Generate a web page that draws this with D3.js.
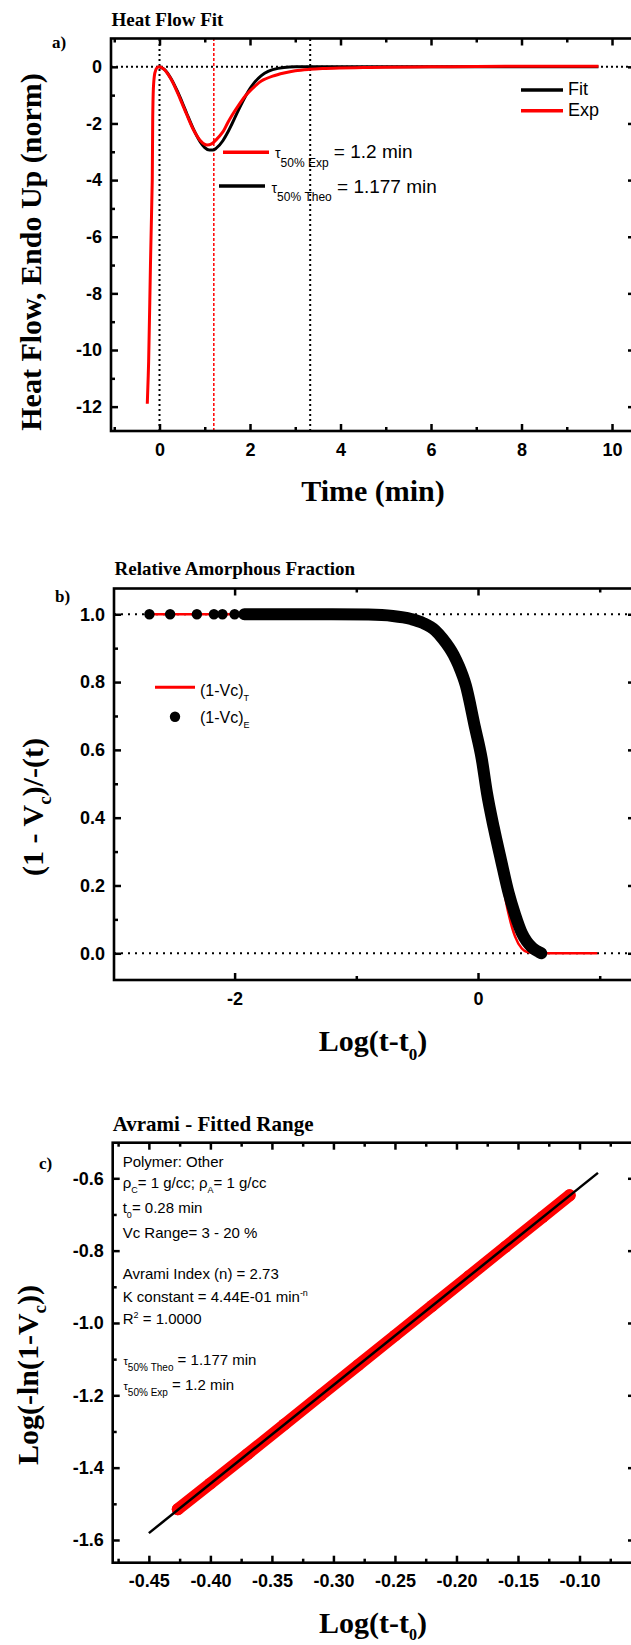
<!DOCTYPE html>
<html>
<head>
<meta charset="utf-8">
<script src="https://cdn.jsdelivr.net/npm/d3@7"></script>
<style>
  body { margin: 0; background: #fff; }
  svg { display: block; }
  text { white-space: pre; }
</style>
</head>
<body>
<svg id="chart" width="631" height="1645"></svg>
<script>
// ---- panel a : heat flow ----
const fitTime = [0, 0.1, 0.25, 0.4, 0.5, 0.6, 0.75, 0.9, 1.0, 1.1, 1.177, 1.25, 1.4, 1.5, 1.6, 1.75, 1.9, 2.0, 2.1, 2.25, 2.4, 2.5, 2.75, 3.0, 3.5, 4, 5, 6, 7, 8, 9, 9.7];
const fitHeat = [0, -0.08, -0.40, -0.88, -1.25, -1.64, -2.20, -2.65, -2.85, -2.94, -2.94, -2.88, -2.61, -2.34, -2.02, -1.51, -1.04, -0.77, -0.55, -0.31, -0.16, -0.10, -0.02, 0, 0, 0, 0, 0, 0, 0, 0, 0];
const expTime = [-0.27, -0.24, -0.2, -0.16, -0.15, -0.13, -0.1, -0.06, 0, 0.1, 0.25, 0.4, 0.5, 0.6, 0.75, 0.9, 1.0, 1.05, 1.15, 1.25, 1.4, 1.5, 1.6, 1.75, 1.9, 2.0, 2.1, 2.25, 2.5, 2.75, 3.0, 3.3, 3.6, 4.0, 4.5, 5, 6, 7, 8, 9, 9.7];
const expHeat = [-11.9, -10.4, -7.0, -4.0, -1.8, -0.6, -0.2, -0.04, 0, -0.09, -0.42, -0.92, -1.3, -1.68, -2.22, -2.6, -2.74, -2.76, -2.72, -2.58, -2.3, -2.0, -1.72, -1.35, -1.02, -0.85, -0.7, -0.5, -0.33, -0.22, -0.14, -0.09, -0.06, -0.04, -0.025, -0.015, 0, 0.01, 0.02, 0.02, 0.02];
const markerTimes = [0, 3.33];   // black dotted
const tauExp = 1.2;              // red dashed

// ---- panel b : relative amorphous fraction ----
const theoLogT = [-2.7, -1.5, -1.0, -0.7, -0.5, -0.35, -0.2, -0.1, 0, 0.074, 0.13, 0.189, 0.25, 0.304, 0.36, 0.4, 0.45, 0.5, 0.6, 0.98];
const theoFrac = [1, 1, 0.999, 0.995, 0.981, 0.952, 0.881, 0.789, 0.641, 0.493, 0.366, 0.233, 0.118, 0.05, 0.014, 0.004, 0.001, 0, 0, 0];
const expLogT = [-2.70, -2.53, -2.31, -2.17, -2.10, -2.00, -1.92, -1.85, -1.79, -1.73, -1.68, -1.63, -1.58, -1.54, -1.2, -0.9, -0.7, -0.55, -0.45, -0.35, -0.29, -0.2, -0.158, -0.1, -0.026, 0.03, 0.074, 0.13, 0.189, 0.25, 0.304, 0.36, 0.40, 0.436, 0.47, 0.50, 0.52];
const expFrac = [1, 1, 1, 1, 1, 1, 1, 1, 1, 1, 1, 1, 1, 1, 1.0, 0.999, 0.995, 0.986, 0.974, 0.952, 0.928, 0.88, 0.848, 0.79, 0.668, 0.575, 0.472, 0.37, 0.275, 0.18, 0.115, 0.06, 0.035, 0.02, 0.01, 0.004, 0.0];

// ---- panel c : avrami fitted range ----
const avrLogT = [-0.4265, -0.40, -0.37, -0.34, -0.31, -0.28, -0.25, -0.22, -0.19, -0.16, -0.13, -0.108];
const avrY = [-1.515, -1.444, -1.363, -1.281, -1.199, -1.117, -1.035, -0.953, -0.871, -0.789, -0.707, -0.647];
const fitLogT = [-0.45, -0.085];
const fitY = [-1.581, -0.585];

const SERIF = "'Liberation Serif','Times New Roman',serif";
const SANS = "'Liberation Sans',Arial,sans-serif";
const RED = "#ff0000";

// plain hyphen for negative tick labels, like the original
const loc = d3.formatLocale({ decimal: ".", thousands: ",", grouping: [3], currency: ["", ""], minus: "-" });

const svg = d3.select("#chart");

// text with sub/superscripts: parts = [{t, size, off}] where off = baseline offset
function rich(sel, x, y, parts, opt) {
    const t = sel.append("text")
        .attr("x", x).attr("y", y)
        .attr("font-family", opt.family || SANS)
        .attr("font-weight", opt.weight || "normal")
        .attr("font-size", opt.size)
        .attr("fill", "black");
    if (opt.anchor) t.attr("text-anchor", opt.anchor);
    if (opt.transform) t.attr("transform", opt.transform).attr("x", 0).attr("y", 0);
    let cur = 0;
    parts.forEach(p => {
        const off = p.off || 0;
        t.append("tspan")
            .attr("dy", off - cur)
            .attr("font-size", p.size || opt.size)
            .text(p.t);
        cur = off;
    });
    return t;
}

function panel(box, xDom, yDom, ticks) {
    const x = d3.scaleLinear().domain(xDom).range([box.left, box.right]);
    const y = d3.scaleLinear().domain(yDom).range([box.bottom, box.top]);
    const g = svg.append("g");
    const under = g.append("g");
    const marks = g.append("g");
    const axes = g.append("g");

    const put = (axis, tx, ty) => axes.append("g")
        .attr("transform", `translate(${tx},${ty})`)
        .call(axis);

    // minor ticks
    put(d3.axisBottom(x).tickValues(ticks.xMinor).tickSizeInner(-4).tickSizeOuter(0).tickFormat(""), 0, box.bottom);
    put(d3.axisTop(x).tickValues(ticks.xMinor).tickSizeInner(-4).tickSizeOuter(0).tickFormat(""), 0, box.top);
    put(d3.axisLeft(y).tickValues(ticks.yMinor).tickSizeInner(-4).tickSizeOuter(0).tickFormat(""), box.left, 0);
    put(d3.axisRight(y).tickValues(ticks.yMinor).tickSizeInner(-4).tickSizeOuter(0).tickFormat(""), box.right, 0);
    // major ticks
    put(d3.axisBottom(x).tickValues(ticks.xMajor).tickSizeInner(-7).tickSizeOuter(0).tickPadding(12).tickFormat(ticks.xFmt), 0, box.bottom);
    put(d3.axisTop(x).tickValues(ticks.xMajor).tickSizeInner(-7).tickSizeOuter(0).tickFormat(""), 0, box.top);
    put(d3.axisLeft(y).tickValues(ticks.yMajor).tickSizeInner(-7).tickSizeOuter(0).tickPadding(9).tickFormat(ticks.yFmt), box.left, 0);
    put(d3.axisRight(y).tickValues(ticks.yMajor).tickSizeInner(-7).tickSizeOuter(0).tickFormat(""), box.right, 0);

    axes.selectAll(".domain").remove();
    axes.selectAll(".tick line").attr("stroke", "black").attr("stroke-width", 2.5);
    axes.selectAll(".tick text")
        .attr("font-family", SANS).attr("font-weight", "bold")
        .attr("font-size", 18).attr("fill", "black");

    axes.append("rect")
        .attr("x", box.left).attr("y", box.top)
        .attr("width", box.right - box.left).attr("height", box.bottom - box.top)
        .attr("fill", "none").attr("stroke", "black").attr("stroke-width", 2.6);

    return { g, under, marks, axes, x, y };
}

function hDotted(p, v, dash) {
    p.under.append("line")
        .attr("x1", p.x.range()[0]).attr("x2", p.x.range()[1])
        .attr("y1", p.y(v)).attr("y2", p.y(v))
        .attr("stroke", "black").attr("stroke-width", 2).attr("stroke-dasharray", dash);
}
function vLine(p, v, color, width, dash) {
    p.under.append("line")
        .attr("x1", p.x(v)).attr("x2", p.x(v))
        .attr("y1", p.y.range()[0]).attr("y2", p.y.range()[1])
        .attr("stroke", color).attr("stroke-width", width).attr("stroke-dasharray", dash);
}

// ================= panel a =================
const pa = panel({ left: 111, right: 635, top: 38.5, bottom: 431 }, [-1.072, 10.508], [-12.86, 1.0], {
    xMajor: [0, 2, 4, 6, 8, 10], xMinor: [-1, 1, 3, 5, 7, 9],
    yMajor: [0, -2, -4, -6, -8, -10, -12], yMinor: [-1, -3, -5, -7, -9, -11],
    xFmt: loc.format("d"), yFmt: loc.format("d")
});
hDotted(pa, 0, "2,3");
markerTimes.forEach(t => vLine(pa, t, "black", 2, "2,3"));
vLine(pa, tauExp, RED, 1.5, "3,2");

const lineA = d3.line().x(d => pa.x(d[0])).y(d => pa.y(d[1])).curve(d3.curveMonotoneX);
pa.marks.append("path").datum(d3.zip(fitTime, fitHeat)).attr("d", lineA)
    .attr("fill", "none").attr("stroke", "black").attr("stroke-width", 3);
pa.marks.append("path").datum(d3.zip(expTime, expHeat))
    .attr("d", d3.line().x(d => pa.x(d[0])).y(d => pa.y(d[1])).curve(d3.curveCatmullRom))
    .attr("fill", "none").attr("stroke", RED).attr("stroke-width", 3);

// legend a
[["Fit", "black", 90, 95], ["Exp", RED, 110.7, 116]].forEach(([lab, c, ly, ty]) => {
    svg.append("line").attr("x1", 521).attr("x2", 563).attr("y1", ly).attr("y2", ly)
        .attr("stroke", c).attr("stroke-width", 3.5);
    svg.append("text").attr("x", 568).attr("y", ty).attr("font-family", SANS)
        .attr("font-size", 18).text(lab);
});
// tau annotations a
svg.append("line").attr("x1", 223).attr("x2", 269).attr("y1", 152.3).attr("y2", 152.3)
    .attr("stroke", RED).attr("stroke-width", 3.5);
rich(svg, 275, 158, [{ t: "τ", size: 14 }, { t: "50% Exp", size: 12, off: 8.5 }, { t: " = 1.2 min", off: 0 }], { size: 19 });
svg.append("line").attr("x1", 219).attr("x2", 265).attr("y1", 186).attr("y2", 186)
    .attr("stroke", "black").attr("stroke-width", 3.5);
rich(svg, 271.5, 193, [{ t: "τ", size: 14 }, { t: "50% Theo", size: 12, off: 8 }, { t: " = 1.177 min", off: 0 }], { size: 19 });

// titles a
svg.append("text").attr("x", 111.5).attr("y", 26).attr("font-family", SERIF).attr("font-weight", "bold")
    .attr("font-size", 19).text("Heat Flow Fit");
svg.append("text").attr("x", 52).attr("y", 48).attr("font-family", SERIF).attr("font-weight", "bold")
    .attr("font-size", 17).text("a)");
svg.append("text").attr("x", 373).attr("y", 501).attr("text-anchor", "middle").attr("font-family", SERIF)
    .attr("font-weight", "bold").attr("font-size", 30).text("Time (min)");
svg.append("text").attr("transform", "translate(41,252) rotate(-90)").attr("text-anchor", "middle")
    .attr("font-family", SERIF).attr("font-weight", "bold").attr("font-size", 30)
    .text("Heat Flow, Endo Up (norm)");

// ================= panel b =================
const pb = panel({ left: 114, right: 635, top: 588.5, bottom: 980 }, [-2.991, 1.29], [-0.0788, 1.076], {
    xMajor: [-2, 0], xMinor: [-1, 1],
    yMajor: [0, 0.2, 0.4, 0.6, 0.8, 1.0], yMinor: [0.1, 0.3, 0.5, 0.7, 0.9],
    xFmt: loc.format("d"), yFmt: loc.format(".1f")
});
hDotted(pb, 1, "2,5");
hDotted(pb, 0, "2,5");
pb.marks.append("path").datum(d3.zip(theoLogT, theoFrac))
    .attr("d", d3.line().x(d => pb.x(d[0])).y(d => pb.y(d[1])).curve(d3.curveMonotoneX))
    .attr("fill", "none").attr("stroke", RED).attr("stroke-width", 2.5);
const expB = d3.zip(expLogT, expFrac);
pb.marks.append("path").datum(expB.slice(6))
    .attr("d", d3.line().x(d => pb.x(d[0])).y(d => pb.y(d[1])).curve(d3.curveMonotoneX))
    .attr("fill", "none").attr("stroke", "black").attr("stroke-width", 12)
    .attr("stroke-linecap", "round").attr("stroke-linejoin", "round");
pb.marks.selectAll("circle").data(expB).join("circle")
    .attr("cx", d => pb.x(d[0])).attr("cy", d => pb.y(d[1])).attr("r", 5.2).attr("fill", "black");

// legend b
svg.append("line").attr("x1", 155).attr("x2", 195).attr("y1", 687.3).attr("y2", 687.3)
    .attr("stroke", RED).attr("stroke-width", 3);
rich(svg, 200, 696, [{ t: "(1-Vc)" }, { t: "T", size: 9, off: 5 }], { size: 16 });
svg.append("circle").attr("cx", 175).attr("cy", 716.7).attr("r", 5.2).attr("fill", "black");
rich(svg, 200, 723, [{ t: "(1-Vc)" }, { t: "E", size: 9, off: 5 }], { size: 16 });

svg.append("text").attr("x", 114.5).attr("y", 575).attr("font-family", SERIF).attr("font-weight", "bold")
    .attr("font-size", 19).text("Relative Amorphous Fraction");
svg.append("text").attr("x", 55).attr("y", 602).attr("font-family", SERIF).attr("font-weight", "bold")
    .attr("font-size", 17).text("b)");
rich(svg, 373, 1051, [{ t: "Log(t-t" }, { t: "0", size: 17, off: 9 }, { t: ")", off: 0 }],
    { family: SERIF, weight: "bold", size: 30, anchor: "middle" });
rich(svg, 0, 0, [{ t: "(1 - V" }, { t: "c", size: 19, off: 8 }, { t: ")/-(t)", off: 0 }],
    { family: SERIF, weight: "bold", size: 30, anchor: "middle", transform: "translate(43,807) rotate(-90)" });

// ================= panel c =================
const pc = panel({ left: 112.7, right: 635, top: 1142.7, bottom: 1562.7 }, [-0.4794, -0.0549], [-1.6628, -0.5016], {
    xMajor: [-0.45, -0.40, -0.35, -0.30, -0.25, -0.20, -0.15, -0.10],
    xMinor: [-0.475, -0.425, -0.375, -0.325, -0.275, -0.225, -0.175, -0.125, -0.075],
    yMajor: [-0.6, -0.8, -1.0, -1.2, -1.4, -1.6], yMinor: [-0.7, -0.9, -1.1, -1.3, -1.5],
    xFmt: loc.format(".2f"), yFmt: loc.format(".1f")
});
const avr = d3.zip(avrLogT, avrY);
pc.marks.append("path").datum(avr)
    .attr("d", d3.line().x(d => pc.x(d[0])).y(d => pc.y(d[1])))
    .attr("fill", "none").attr("stroke", RED).attr("stroke-width", 12)
    .attr("stroke-linecap", "round").attr("stroke-linejoin", "round");
pc.marks.selectAll("circle").data(avr).join("circle")
    .attr("cx", d => pc.x(d[0])).attr("cy", d => pc.y(d[1])).attr("r", 6).attr("fill", RED);
pc.marks.append("path").datum(d3.zip(fitLogT, fitY))
    .attr("d", d3.line().x(d => pc.x(d[0])).y(d => pc.y(d[1])))
    .attr("fill", "none").attr("stroke", "black").attr("stroke-width", 2.5);

// annotation block c
const ann = svg.append("g");
rich(ann, 122.7, 1167, [{ t: "Polymer: Other" }], { size: 15 });
rich(ann, 122.7, 1188, [{ t: "ρ" }, { t: "C", size: 9, off: 5 }, { t: "= 1 g/cc; ρ", off: 0 }, { t: "A", size: 9, off: 5 }, { t: "= 1 g/cc", off: 0 }], { size: 15 });
rich(ann, 122.7, 1213, [{ t: "t" }, { t: "0", size: 9, off: 5 }, { t: "= 0.28 min", off: 0 }], { size: 15 });
rich(ann, 122.7, 1238, [{ t: "Vc Range= 3 - 20 %" }], { size: 15 });
rich(ann, 122.7, 1278.5, [{ t: "Avrami Index (n) = 2.73" }], { size: 15 });
rich(ann, 122.7, 1301.5, [{ t: "K constant = 4.44E-01 min" }, { t: "-n", size: 9, off: -6 }], { size: 15 });
rich(ann, 122.7, 1324.3, [{ t: "R" }, { t: "2", size: 9, off: -6 }, { t: " = 1.0000", off: 0 }], { size: 15 });
rich(ann, 123.5, 1365, [{ t: "τ", size: 11 }, { t: "50% Theo", size: 10, off: 6 }, { t: " = 1.177 min", off: 0 }], { size: 15 });
rich(ann, 123.5, 1390, [{ t: "τ", size: 11 }, { t: "50% Exp", size: 10, off: 6 }, { t: " = 1.2 min", off: 0 }], { size: 15 });

svg.append("text").attr("x", 112.7).attr("y", 1130.7).attr("font-family", SERIF).attr("font-weight", "bold")
    .attr("font-size", 21).text("Avrami - Fitted Range");
svg.append("text").attr("x", 39).attr("y", 1169).attr("font-family", SERIF).attr("font-weight", "bold")
    .attr("font-size", 17).text("c)");
rich(svg, 373, 1633, [{ t: "Log(t-t" }, { t: "0", size: 16, off: 7 }, { t: ")", off: 0 }],
    { family: SERIF, weight: "bold", size: 30, anchor: "middle" });
rich(svg, 0, 0, [{ t: "Log(-ln(1-V" }, { t: "c", size: 19, off: 8 }, { t: "))", off: 0 }],
    { family: SERIF, weight: "bold", size: 30, anchor: "middle", transform: "translate(38,1375) rotate(-90)" });
</script>
</body>
</html>
